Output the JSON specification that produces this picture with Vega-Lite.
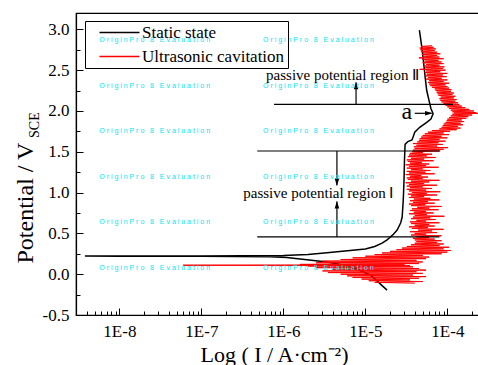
{
"$schema":"https://vega.github.io/schema/vega-lite/v6.json",
"width":404,"height":302,
"autosize":{"type":"none"},
"padding":{"left":76,"top":13,"right":0,"bottom":50},
"background":"white",
"config":{"view":{"stroke":"black","strokeWidth":1.2},"font":"Liberation Serif"},
"datasets":{
"black":[
{"I":1.84e-5,"V":-0.195},{"I":1.6e-5,"V":-0.14},{"I":1.35e-5,"V":-0.07},{"I":1.15e-5,"V":-0.01},{"I":8e-6,"V":0.06},{"I":5e-6,"V":0.12},{"I":3.4e-6,"V":0.148},{"I":1.1e-6,"V":0.205},{"I":6.9e-7,"V":0.215},{"I":1e-7,"V":0.219},{"I":1e-8,"V":0.221},{"I":3.8e-9,"V":0.222},{"I":1e-8,"V":0.223},{"I":1e-7,"V":0.224},{"I":1e-6,"V":0.228},{"I":2e-6,"V":0.24},{"I":3.4e-6,"V":0.262},{"I":6.5e-6,"V":0.29},{"I":1e-5,"V":0.31},{"I":1.3e-5,"V":0.34},{"I":1.6e-5,"V":0.38},{"I":1.84e-5,"V":0.42},{"I":2.2e-5,"V":0.49},{"I":2.44e-5,"V":0.54},{"I":2.7e-5,"V":0.63},{"I":2.81e-5,"V":0.7},{"I":2.9e-5,"V":0.91},{"I":2.96e-5,"V":1.15},{"I":3.0e-5,"V":1.4},{"I":3.05e-5,"V":1.59},{"I":3.3e-5,"V":1.625},{"I":3.7e-5,"V":1.645},{"I":3.85e-5,"V":1.69},{"I":4.0e-5,"V":1.74},{"I":4.6e-5,"V":1.8},{"I":5.6e-5,"V":1.86},{"I":6.3e-5,"V":1.9},{"I":6.7e-5,"V":1.965},{"I":6.3e-5,"V":2.03},{"I":6.1e-5,"V":2.09},{"I":5.6e-5,"V":2.25},{"I":5.35e-5,"V":2.42},{"I":5.1e-5,"V":2.62},{"I":4.85e-5,"V":2.8},{"I":4.56e-5,"V":2.99}
],
"red":[
{"I":4.0e-5,"V":-0.11},{"I":1.3e-5,"V":-0.1},{"I":5.0e-5,"V":-0.09},{"I":1.1e-5,"V":-0.08},{"I":3.5e-5,"V":-0.07},{"I":9e-6,"V":-0.06},{"I":4.5e-5,"V":-0.05},{"I":7e-6,"V":-0.04},{"I":5.5e-5,"V":-0.03},{"I":6e-6,"V":-0.02},{"I":3.8e-5,"V":-0.01},{"I":5e-6,"V":0.0},{"I":5.0e-5,"V":0.01},{"I":3.5e-6,"V":0.02},{"I":4.2e-5,"V":0.03},{"I":3e-6,"V":0.04},{"I":5.5e-5,"V":0.05},{"I":4e-6,"V":0.06},{"I":4.5e-5,"V":0.07},{"I":2.5e-6,"V":0.08},{"I":3.8e-5,"V":0.09},{"I":2e-6,"V":0.1},{"I":3.5e-5,"V":0.105},{"I":6e-8,"V":0.11},{"I":3.0e-5,"V":0.115},{"I":1.6e-6,"V":0.12},{"I":4.5e-5,"V":0.13},{"I":2.5e-6,"V":0.14},{"I":5.0e-5,"V":0.15},{"I":3e-6,"V":0.16},{"I":4.2e-5,"V":0.17},{"I":5e-6,"V":0.18},{"I":5.5e-5,"V":0.19},{"I":7e-6,"V":0.2},{"I":6.0e-5,"V":0.21},{"I":1e-5,"V":0.22},{"I":5.0e-5,"V":0.23},{"I":1.3e-5,"V":0.24},{"I":8.5e-5,"V":0.25},{"I":1.6e-5,"V":0.26},{"I":1.0e-4,"V":0.27},{"I":2.0e-5,"V":0.28},{"I":1.1e-4,"V":0.29},{"I":2.4e-5,"V":0.3},{"I":9.0e-5,"V":0.31},{"I":2.8e-5,"V":0.32},{"I":1.05e-4,"V":0.33},{"I":3.2e-5,"V":0.34},{"I":8.0e-5,"V":0.35},{"I":3.6e-5,"V":0.36},{"I":9.0e-5,"V":0.37},{"I":4.0e-5,"V":0.38},{"I":7.5e-5,"V":0.39},{"I":4.2e-5,"V":0.4},{"I":8.5e-5,"V":0.41},{"I":4.0e-5,"V":0.42},
{"I":7.0e-5,"V":0.43},{"I":3.8e-5,"V":0.44},{"I":6.0e-5,"V":0.45},{"I":4.2e-5,"V":0.46},{"I":8.5e-5,"V":0.47},{"I":3.6e-5,"V":0.48},{"I":5.5e-5,"V":0.49},{"I":4.0e-5,"V":0.5},{"I":7.5e-5,"V":0.51},{"I":3.5e-5,"V":0.52},{"I":6.5e-5,"V":0.53},{"I":4.4e-5,"V":0.54},{"I":9.0e-5,"V":0.55},{"I":3.7e-5,"V":0.56},{"I":5.8e-5,"V":0.57},{"I":3.4e-5,"V":0.58},{"I":7.0e-5,"V":0.59},{"I":4.0e-5,"V":0.6},{"I":6.0e-5,"V":0.61},{"I":3.6e-5,"V":0.62},{"I":8.0e-5,"V":0.63},{"I":3.5e-5,"V":0.64},{"I":5.5e-5,"V":0.65},{"I":4.2e-5,"V":0.66},{"I":7.2e-5,"V":0.67},{"I":3.6e-5,"V":0.68},{"I":6.2e-5,"V":0.69},{"I":3.8e-5,"V":0.7},{"I":9.2e-5,"V":0.71},{"I":4.0e-5,"V":0.72},{"I":5.6e-5,"V":0.73},{"I":3.4e-5,"V":0.74},{"I":6.8e-5,"V":0.75},{"I":3.9e-5,"V":0.76},{"I":5.5e-5,"V":0.77},{"I":3.5e-5,"V":0.78},{"I":7.8e-5,"V":0.79},{"I":3.7e-5,"V":0.8},{"I":6.0e-5,"V":0.81},{"I":4.3e-5,"V":0.82},{"I":8.5e-5,"V":0.83},{"I":3.6e-5,"V":0.84},{"I":5.4e-5,"V":0.85},{"I":3.4e-5,"V":0.86},{"I":7.0e-5,"V":0.87},{"I":3.8e-5,"V":0.88},{"I":5.8e-5,"V":0.89},{"I":3.5e-5,"V":0.9},{"I":8.0e-5,"V":0.91},{"I":3.9e-5,"V":0.92},{"I":6.2e-5,"V":0.93},{"I":3.4e-5,"V":0.94},{"I":5.2e-5,"V":0.95},{"I":3.6e-5,"V":0.96},{"I":7.5e-5,"V":0.97},{"I":3.3e-5,"V":0.98},{"I":5.6e-5,"V":0.99},{"I":3.7e-5,"V":1.0},{"I":8.2e-5,"V":1.01},{"I":3.4e-5,"V":1.02},{"I":5.5e-5,"V":1.03},
{"I":3.2e-5,"V":1.04},{"I":6.5e-5,"V":1.05},{"I":3.5e-5,"V":1.06},{"I":5.0e-5,"V":1.07},{"I":3.2e-5,"V":1.08},{"I":7.5e-5,"V":1.09},{"I":3.4e-5,"V":1.1},{"I":5.2e-5,"V":1.11},{"I":3.1e-5,"V":1.12},{"I":6.0e-5,"V":1.13},{"I":3.6e-5,"V":1.14},{"I":8.0e-5,"V":1.15},{"I":3.3e-5,"V":1.16},{"I":5.0e-5,"V":1.17},{"I":3.2e-5,"V":1.18},{"I":5.8e-5,"V":1.19},{"I":3.5e-5,"V":1.2},{"I":4.8e-5,"V":1.21},{"I":3.1e-5,"V":1.22},{"I":7.0e-5,"V":1.23},{"I":3.4e-5,"V":1.24},{"I":5.4e-5,"V":1.25},{"I":3.2e-5,"V":1.26},{"I":6.2e-5,"V":1.27},{"I":3.6e-5,"V":1.28},{"I":5.0e-5,"V":1.29},{"I":3.2e-5,"V":1.3},{"I":7.8e-5,"V":1.31},{"I":3.4e-5,"V":1.32},{"I":5.5e-5,"V":1.33},{"I":3.1e-5,"V":1.34},{"I":6.0e-5,"V":1.35},{"I":3.5e-5,"V":1.36},{"I":4.9e-5,"V":1.37},{"I":3.3e-5,"V":1.38},{"I":6.8e-5,"V":1.39},{"I":3.2e-5,"V":1.4},{"I":5.2e-5,"V":1.41},{"I":3.6e-5,"V":1.42},{"I":7.2e-5,"V":1.43},{"I":3.3e-5,"V":1.44},{"I":5.6e-5,"V":1.45},{"I":3.4e-5,"V":1.46},{"I":6.5e-5,"V":1.47},{"I":3.5e-5,"V":1.48},{"I":5.0e-5,"V":1.49},{"I":3.7e-5,"V":1.5},{"I":8.0e-5,"V":1.51},{"I":3.8e-5,"V":1.52},
{"I":9.0e-5,"V":1.53},{"I":4.0e-5,"V":1.54},{"I":1.02e-4,"V":1.55},{"I":3.9e-5,"V":1.56},{"I":7.5e-5,"V":1.57},{"I":4.2e-5,"V":1.58},{"I":8.8e-5,"V":1.59},{"I":3.8e-5,"V":1.6},{"I":7.8e-5,"V":1.61},{"I":4.3e-5,"V":1.62},{"I":9.5e-5,"V":1.63},{"I":4.5e-5,"V":1.64},{"I":8.0e-5,"V":1.65},{"I":4.6e-5,"V":1.66},{"I":1.0e-4,"V":1.67},{"I":4.8e-5,"V":1.68},{"I":8.5e-5,"V":1.69},{"I":5.0e-5,"V":1.7},{"I":1.05e-4,"V":1.71},{"I":5.3e-5,"V":1.72},{"I":9.0e-5,"V":1.73},{"I":5.8e-5,"V":1.74},{"I":1.08e-4,"V":1.75},{"I":6.5e-5,"V":1.76},
{"I":1.3e-4,"V":1.77},{"I":8.0e-5,"V":1.78},{"I":1.45e-4,"V":1.79},{"I":8.5e-5,"V":1.8},{"I":1.35e-4,"V":1.81},{"I":8.8e-5,"V":1.82},{"I":1.55e-4,"V":1.83},{"I":9.0e-5,"V":1.84},{"I":1.45e-4,"V":1.85},{"I":9.5e-5,"V":1.86},{"I":1.6e-4,"V":1.87},{"I":9.8e-5,"V":1.88},{"I":1.5e-4,"V":1.89},{"I":1.0e-4,"V":1.9},{"I":1.7e-4,"V":1.91},{"I":1.05e-4,"V":1.92},
{"I":1.8e-4,"V":1.93},{"I":1.1e-4,"V":1.94},{"I":2.0e-4,"V":1.95},{"I":1.15e-4,"V":1.96},{"I":2.35e-4,"V":1.97},{"I":1.2e-4,"V":1.975},{"I":2.25e-4,"V":1.98},{"I":1.15e-4,"V":1.99},{"I":2.1e-4,"V":2.0},{"I":1.1e-4,"V":2.01},{"I":1.85e-4,"V":2.02},{"I":1.05e-4,"V":2.03},{"I":1.65e-4,"V":2.04},{"I":1.0e-4,"V":2.05},{"I":1.5e-4,"V":2.06},{"I":9.5e-5,"V":2.07},{"I":1.4e-4,"V":2.08},
{"I":9.0e-5,"V":2.09},{"I":1.35e-4,"V":2.1},{"I":8.5e-5,"V":2.11},{"I":1.25e-4,"V":2.12},{"I":8.2e-5,"V":2.13},{"I":1.3e-4,"V":2.14},{"I":8.0e-5,"V":2.15},{"I":1.2e-4,"V":2.16},{"I":8.3e-5,"V":2.17},{"I":1.25e-4,"V":2.18},{"I":7.8e-5,"V":2.19},{"I":1.15e-4,"V":2.2},{"I":7.6e-5,"V":2.21},{"I":1.2e-4,"V":2.22},{"I":7.4e-5,"V":2.23},{"I":1.1e-4,"V":2.24},{"I":7.2e-5,"V":2.25},{"I":1.12e-4,"V":2.26},{"I":7.0e-5,"V":2.27},{"I":1.05e-4,"V":2.28},
{"I":6.5e-5,"V":2.29},{"I":1.0e-4,"V":2.3},{"I":6.2e-5,"V":2.31},{"I":9.5e-5,"V":2.32},{"I":6.0e-5,"V":2.33},{"I":1.05e-4,"V":2.34},{"I":5.8e-5,"V":2.35},{"I":9.0e-5,"V":2.36},{"I":6.0e-5,"V":2.37},{"I":1.0e-4,"V":2.38},{"I":5.5e-5,"V":2.39},{"I":8.5e-5,"V":2.4},{"I":5.8e-5,"V":2.41},{"I":9.8e-5,"V":2.42},{"I":5.4e-5,"V":2.43},{"I":8.8e-5,"V":2.44},{"I":5.6e-5,"V":2.45},{"I":1.0e-4,"V":2.46},{"I":5.3e-5,"V":2.47},{"I":8.2e-5,"V":2.48},{"I":5.5e-5,"V":2.49},{"I":9.5e-5,"V":2.5},{"I":4.6e-5,"V":2.51},{"I":8.8e-5,"V":2.52},{"I":5.4e-5,"V":2.53},{"I":9.2e-5,"V":2.54},{"I":5.2e-5,"V":2.55},{"I":8.0e-5,"V":2.56},{"I":5.5e-5,"V":2.57},{"I":9.0e-5,"V":2.58},{"I":5.0e-5,"V":2.59},{"I":8.5e-5,"V":2.6},{"I":5.3e-5,"V":2.61},{"I":7.8e-5,"V":2.62},{"I":5.0e-5,"V":2.63},{"I":9.0e-5,"V":2.64},{"I":4.5e-5,"V":2.65},{"I":8.0e-5,"V":2.66},{"I":5.2e-5,"V":2.67},{"I":7.5e-5,"V":2.68},{"I":4.9e-5,"V":2.69},{"I":8.2e-5,"V":2.7},
{"I":5.0e-5,"V":2.71},{"I":7.5e-5,"V":2.72},{"I":4.8e-5,"V":2.73},{"I":7.0e-5,"V":2.74},{"I":4.7e-5,"V":2.75},{"I":7.2e-5,"V":2.76},{"I":4.6e-5,"V":2.77},{"I":6.8e-5,"V":2.78},{"I":4.8e-5,"V":2.79},{"I":6.5e-5,"V":2.8}
],
"lines":[
{"I":7.7e-7,"I2":1.17e-4,"V":2.081,"V2":2.081},
{"I":4.8e-7,"I2":8.2e-5,"V":1.509,"V2":1.509},
{"I":4.8e-7,"I2":8.0e-5,"V":0.456,"V2":0.456},
{"I":7.7e-6,"I2":7.7e-6,"V":2.081,"V2":2.35},
{"I":4.5e-6,"I2":4.5e-6,"V":1.509,"V2":1.09},
{"I":4.5e-6,"I2":4.5e-6,"V":0.456,"V2":0.89},
{"I":4.0e-5,"I2":6.4e-5,"V":1.971,"V2":1.971}
],
"heads":[
{"I":7.7e-6,"V":2.358,"dir":"up"},
{"I":4.5e-6,"V":1.08,"dir":"down"},
{"I":4.5e-6,"V":0.897,"dir":"up"},
{"I":6.6e-5,"V":1.971,"dir":"right"}
],
"notes":[
{"I":6.15e-7,"V":2.379,"t":"passive potential region Ⅱ"},
{"I":3.24e-7,"V":0.93,"t":"passive potential region Ⅰ"}
],
"amark":[{"I":3.2e-5,"V":1.901,"t":"a"}],
"wm":[
{"I":5.69e-9,"V":2.873},{"I":5.65e-7,"V":2.873},
{"I":5.69e-9,"V":2.306},{"I":5.65e-7,"V":2.306},
{"I":5.69e-9,"V":1.754},{"I":5.65e-7,"V":1.754},
{"I":5.69e-9,"V":1.191},{"I":5.65e-7,"V":1.191},
{"I":5.69e-9,"V":0.639},{"I":5.65e-7,"V":0.639},
{"I":5.69e-9,"V":0.076},{"I":5.65e-7,"V":0.076}
],
"sub":[{"I":1.05e-9,"V":1.669,"t":"SCE"}]
},
"encoding":{
"x":{"field":"I","type":"quantitative",
 "scale":{"type":"log","domain":[2.96e-9,2.5e-4],"nice":false},
 "axis":{"title":"Log ( I / A·cm⁻²)",
  "values":[3e-9,4e-9,5e-9,6e-9,7e-9,8e-9,9e-9,1e-8,2e-8,3e-8,4e-8,5e-8,6e-8,7e-8,8e-8,9e-8,1e-7,2e-7,3e-7,4e-7,5e-7,6e-7,7e-7,8e-7,9e-7,1e-6,2e-6,3e-6,4e-6,5e-6,6e-6,7e-6,8e-6,9e-6,1e-5,2e-5,3e-5,4e-5,5e-5,6e-5,7e-5,8e-5,9e-5,1e-4,2e-4],
  "labelExpr":"abs(log(datum.value)/LN10 - round(log(datum.value)/LN10)) < 0.001 ? '1E' + round(log(datum.value)/LN10) : ''",
  "tickSize":{"condition":{"test":"abs(log(datum.value)/LN10 - round(log(datum.value)/LN10)) < 0.001","value":-7},"value":-4},
  "grid":false,"domainColor":"black","domainWidth":1.2,"tickColor":"black","tickWidth":1,
  "labelColor":"black","labelFont":"Liberation Serif","labelFontSize":17,"labelPadding":15,"labelOverlap":false,"labelFlush":false,"labelBaseline":"top",
  "titleFont":"Liberation Serif","titleFontSize":22,"titleFontWeight":"normal","titleColor":"black",
  "titleX":198,"titleY":46,"titleAlign":"center","titleBaseline":"alphabetic"}},
"y":{"field":"V","type":"quantitative",
 "scale":{"domain":[-0.5,3.2],"nice":false,"zero":false},
 "axis":{"title":"Potential / V",
  "values":[-0.5,-0.25,0,0.25,0.5,0.75,1,1.25,1.5,1.75,2,2.25,2.5,2.75,3],
  "labelExpr":"abs(datum.value*2 - round(datum.value*2)) < 0.001 ? replace(format(datum.value, '.1f'), '\u2212', '-') : ''",
  "tickSize":{"condition":{"test":"abs(datum.value*2 - round(datum.value*2)) < 0.001","value":-7},"value":-4},
  "grid":false,"domainColor":"black","domainWidth":1.2,"tickColor":"black","tickWidth":1,
  "labelColor":"black","labelFont":"Liberation Serif","labelFontSize":17,"labelPadding":14,"labelOverlap":false,"labelFlush":false,
  "titleFont":"Liberation Serif","titleFontSize":24,"titleFontWeight":"normal","titleColor":"black",
  "titleAngle":270,"titleX":-44,"titleY":250,"titleAlign":"left","titleBaseline":"alphabetic"}}
},
"layer":[
{"data":{"name":"black"},"mark":{"type":"line","strokeWidth":1.5,"clip":true},
 "encoding":{"order":{"value":null},
  "color":{"datum":"Static state","scale":{"domain":["Static state","Ultrasonic cavitation"],"range":["black","red"]},
   "legend":{"orient":"none","legendX":9,"legendY":8,"title":null,"symbolType":"M-4,0L4,0","symbolSize":100,"symbolStrokeWidth":1.5,"labelFont":"Liberation Serif","labelFontSize":17,"labelColor":"black","padding":3,"symbolOffset":23,"labelOffset":14,"rowPadding":6,"strokeColor":"black","labelExpr":"datum.label + '\u00a0\u00a0'"}}}},
{"data":{"name":"red"},"mark":{"type":"line","strokeWidth":1,"clip":true},
 "encoding":{"order":{"value":null},"color":{"datum":"Ultrasonic cavitation"}}},
{"data":{"name":"lines"},"mark":{"type":"rule","color":"black","strokeWidth":1.2},
 "encoding":{"x2":{"field":"I2"},"y2":{"field":"V2"}}},
{"data":{"name":"heads"},"mark":{"type":"point","filled":true,"color":"black","opacity":1,"size":100},
 "encoding":{"shape":{"field":"dir","type":"nominal","scale":{"domain":["up","down","right"],"range":["M0,0L0.45,1.5L-0.45,1.5Z","M0,0L0.45,-1.5L-0.45,-1.5Z","M0,0L-1.5,0.45L-1.5,-0.45Z"]},"legend":null}}},
{"data":{"name":"notes"},"mark":{"type":"text","align":"left","baseline":"alphabetic","font":"Liberation Serif","fontSize":15,"color":"black"},
 "encoding":{"text":{"field":"t"}}},
{"data":{"name":"amark"},"mark":{"type":"text","align":"center","baseline":"alphabetic","font":"Liberation Serif","fontSize":24,"color":"black"},
 "encoding":{"text":{"field":"t"}}},
{"data":{"name":"wm"},"mark":{"type":"text","align":"left","baseline":"middle","font":"Liberation Sans","fontSize":7,"color":"#00E5F5"},
 "encoding":{"text":{"value":"O r i g i n P r o \u00a0 8 \u00a0 E v a l u a t i o n"}}},
{"data":{"name":"sub"},"mark":{"type":"text","align":"left","baseline":"alphabetic","angle":270,"font":"Liberation Serif","fontSize":14,"color":"black"},
 "encoding":{"text":{"field":"t"}}}
]
}
